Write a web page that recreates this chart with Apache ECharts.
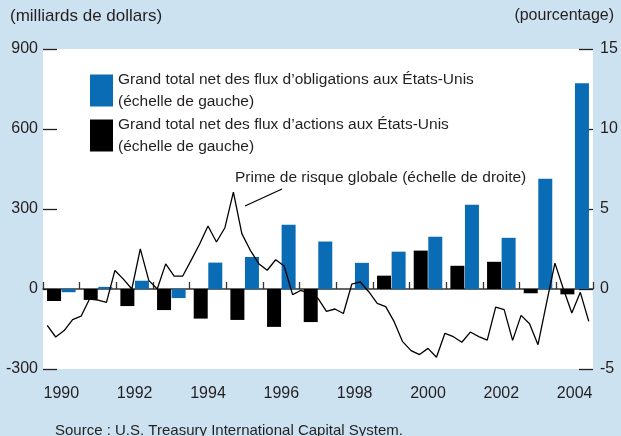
<!DOCTYPE html>
<html><head><meta charset="utf-8">
<script src="https://cdn.jsdelivr.net/npm/echarts@6/dist/echarts.min.js"></script>
<style>html,body{margin:0;padding:0;background:#cde2f0}#c{width:621px;height:436px}</style>
</head><body><div id="c"></div>
<script>
// ---- data ----
const years = ['1990','1991','1992','1993','1994','1995','1996','1997','1998','1999','2000','2001','2002','2003','2004'];
const obligations = [-12, 8, 31, -34, 99, 120, 241, 178, 98, 140, 196, 316, 192, 413, 772];
const actions = [-45, -41, -64, -79, -111, -116, -142, -124, 0, 50, 144, 87, 102, -16, -20];
const riskPremium = [
  -2.27, -3.0, -2.6, -1.91, -1.7, -0.63, -0.7, -0.84, 1.16, 0.62,
  0.0, 2.51, 0.54, 0.0, 1.57, 0.8, 0.8, 1.79, 2.8, 3.94,
  2.94, 3.83, 6.06, 3.46, 2.42, 1.58, 1.17, 1.83, 1.44, -0.35,
  -0.08, -0.3, -0.58, -1.4, -1.25, -1.53, 0.31, 0.44, -0.17, -0.9,
  -1.1, -2.04, -3.29, -3.85, -4.1, -3.71, -4.27, -2.77, -2.98, -3.33,
  -2.69, -2.98, -3.2, -1.13, -1.29, -3.21, -1.65, -2.17, -3.48, -0.9,
  1.62, 0.0, -1.5, -0.21, -2.02
];
const periods = riskPremium.map((_, i) => 'p' + (i + 1));
const leftAxis = {min: -300, max: 900, interval: 300};
const rightAxis = {min: -5, max: 15, interval: 5};
const nameObl = 'Grand total net des flux d\u2019obligations aux \u00c9tats-Unis\n(\u00e9chelle de gauche)';
const nameAct = 'Grand total net des flux d\u2019actions aux \u00c9tats-Unis\n(\u00e9chelle de gauche)';
const annotation = 'Prime de risque globale (\u00e9chelle de droite)';

// ---- styles ----
const FONT = "'Liberation Sans',Arial,sans-serif";
const INK = '#231f20';
const BLUE = '#0a6cb4';

const chart = echarts.init(document.getElementById('c'), null, {renderer: 'canvas'});
chart.setOption({
  backgroundColor: '#cde2f0',
  animation: false,
  grid: {left: 43, right: 28, top: 49, bottom: 67, show: true, backgroundColor: '#ffffff', borderWidth: 0},
  legend: {
    data: [nameObl, nameAct],
    orient: 'vertical', left: 90, top: 69, padding: 0,
    itemWidth: 23, itemHeight: 32, itemGap: 2,
    icon: 'rect',
    textStyle: {fontFamily: FONT, fontSize: 15.5, lineHeight: 21.5, color: INK}
  },
  xAxis: [
    {type: 'category', data: years, position: 'bottom', boundaryGap: true,
     axisLine: {onZero: true, onZeroAxisIndex: 0, lineStyle: {color: '#333', width: 1.5}},
     axisTick: {show: true, inside: true, length: 7, interval: 0, lineStyle: {color: '#333', width: 1.3}},
     axisLabel: {show: false}, splitLine: {show: false}},
    {type: 'category', data: years, position: 'bottom', boundaryGap: true,
     axisLine: {show: false, onZero: false}, axisTick: {show: false},
     axisLabel: {interval: 1, margin: 17, fontFamily: FONT, fontSize: 16, color: INK}, splitLine: {show: false}},
    {type: 'category', data: periods, position: 'top', boundaryGap: true, show: false}
  ],
  yAxis: [
    {type: 'value', position: 'left', min: leftAxis.min, max: leftAxis.max, interval: leftAxis.interval,
     axisLine: {show: false}, splitLine: {show: false},
     axisTick: {show: true, inside: true, length: 14, lineStyle: {color: INK, width: 1.3}},
     axisLabel: {margin: 5, fontFamily: FONT, fontSize: 16, color: INK,
       formatter: v => v < 0 ? '-' + Math.abs(v) : String(v)}},
    {type: 'value', position: 'right', min: rightAxis.min, max: rightAxis.max, interval: rightAxis.interval,
     axisLine: {show: false}, splitLine: {show: false},
     axisTick: {show: true, inside: true, length: 14, lineStyle: {color: INK, width: 1.3}},
     axisLabel: {margin: 7, fontFamily: FONT, fontSize: 16, color: INK,
       formatter: v => v < 0 ? '-' + Math.abs(v) : String(v)}}
  ],
  series: [
    {name: nameAct, type: 'bar', data: actions, xAxisIndex: 0, yAxisIndex: 0,
     barWidth: 14, barGap: '4%', itemStyle: {color: '#000000'}},
    {name: nameObl, type: 'bar', data: obligations, xAxisIndex: 0, yAxisIndex: 0,
     barWidth: 14, barGap: '4%', itemStyle: {color: BLUE}},
    {name: 'Prime de risque globale', type: 'line', data: riskPremium, xAxisIndex: 2, yAxisIndex: 1,
     symbol: 'none', lineStyle: {color: '#000', width: 1.3}, z: 5}
  ],
  graphic: [
    {type: 'text', left: 10, top: 8, style: {text: '(milliards de dollars)', font: '17px ' + FONT, fill: INK}},
    {type: 'text', right: 7, top: 8, style: {text: '(pourcentage)', font: '16px ' + FONT, fill: INK}},
    {type: 'text', left: 235, top: 170, style: {text: annotation, font: '15.5px ' + FONT, fill: INK}, z: 10},
    {type: 'line', shape: {x1: 245, y1: 206, x2: 282, y2: 189}, style: {stroke: '#000', lineWidth: 1.3}, z: 10},
    {type: 'text', left: 55, top: 423, style: {text: 'Source : U.S. Treasury International Capital System.', font: '15px ' + FONT, fill: INK}}
  ]
});
</script>
</body></html>
